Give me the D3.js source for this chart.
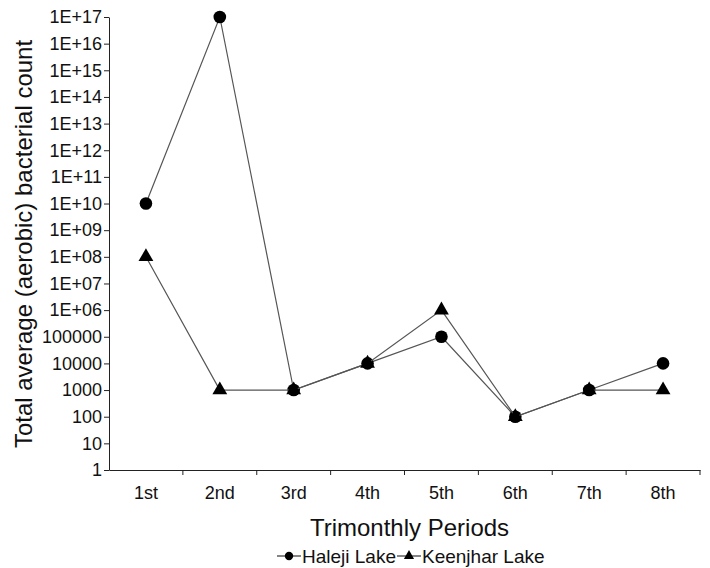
<!DOCTYPE html>
<html>
<head>
<meta charset="utf-8">
<script src="https://cdn.jsdelivr.net/npm/d3@7"></script>
<style>
  body { margin: 0; background: #fff; }
  text { font-family: "Liberation Sans", Arial, sans-serif; fill: #111; }
</style>
</head>
<body>
<svg width="710" height="568"></svg>
<script>
const periods = ['1st', '2nd', '3rd', '4th', '5th', '6th', '7th', '8th']
const haleji = [1e10, 1e17, 1e3, 1e4, 1e5, 1e2, 1e3, 1e4]
const keenjhar = [1e8, 1e3, 1e3, 1e4, 1e6, 1e2, 1e3, 1e3]
const yTicks = d3.range(0, 18).map(e => Math.pow(10, e))

const svg = d3.select('svg')
const margin = { top: 17, right: 10, bottom: 98, left: 109 }
const width = +svg.attr('width')
const height = +svg.attr('height')
const innerWidth = width - margin.left - margin.right
const innerHeight = height - margin.top - margin.bottom

const fmt = v => {
  const e = Math.round(Math.log10(v))
  if (e <= 5) return String(v)
  return '1E+' + (e < 10 ? '0' + e : e)
}

const xScale = d3.scaleBand().domain(periods).range([0, innerWidth])
const yScale = d3.scaleLog().domain([1, 1e17]).range([innerHeight, 0])

const g = svg.append('g')
  .attr('transform', `translate(${margin.left}, ${margin.top})`)

// y axis
const yAxisG = g.append('g')
  .call(d3.axisLeft(yScale).tickValues(yTicks).tickFormat(fmt).tickSize(5).tickSizeOuter(0))
yAxisG.selectAll('.tick text').attr('x', -7).style('font-size', '18px')
yAxisG.selectAll('line, path').attr('stroke', '#222')

// x axis with ticks at band boundaries
const xAxisG = g.append('g')
  .attr('transform', `translate(0, ${innerHeight})`)
  .call(d3.axisBottom(xScale).tickSize(0).tickSizeOuter(0))
xAxisG.selectAll('.tick text').attr('dy', null).attr('y', 29).style('font-size', '18px')
xAxisG.select('.domain').attr('stroke', '#222')
xAxisG.selectAll('.bnd')
  .data(periods)
  .enter()
  .append('line')
  .attr('class', 'bnd')
  .attr('x1', d => xScale(d) + xScale.bandwidth())
  .attr('x2', d => xScale(d) + xScale.bandwidth())
  .attr('y1', 0)
  .attr('y2', 5)
  .attr('stroke', '#222')

const cx = d => xScale(d) + xScale.bandwidth() / 2

const line = d3.line()
  .x(d => cx(d.p))
  .y(d => yScale(d.v))

const series = [
  { name: 'Haleji Lake', values: haleji, shape: d3.symbolCircle },
  { name: 'Keenjhar Lake', values: keenjhar, shape: d3.symbolTriangle }
]

series.forEach(s => {
  const pts = periods.map((p, i) => ({ p, v: s.values[i] }))
  g.append('path')
    .attr('d', line(pts))
    .attr('fill', 'none')
    .attr('stroke', '#555')
    .attr('stroke-width', 1.2)
  g.selectAll(null)
    .data(pts)
    .enter()
    .append('path')
    .attr('d', d3.symbol().type(s.shape).size(s.shape === d3.symbolCircle ? 125 : 95))
    .attr('transform', d => `translate(${cx(d.p)}, ${yScale(d.v)})`)
    .attr('fill', '#000')
})

// axis titles
svg.append('text')
  .attr('x', margin.left + innerWidth / 2 + 5)
  .attr('y', 536)
  .attr('text-anchor', 'middle')
  .style('font-size', '24px')
  .text('Trimonthly Periods')

svg.append('text')
  .attr('transform', `translate(32, 244) rotate(-90)`)
  .attr('text-anchor', 'middle')
  .style('font-size', '24px')
  .text('Total average (aerobic) bacterial count')

// legend
const legend = svg.append('g').attr('transform', 'translate(277, 556)')
let lx = 0
series.forEach(s => {
  const item = legend.append('g').attr('transform', `translate(${lx}, 0)`)
  item.append('line')
    .attr('x1', 0).attr('x2', 24).attr('y1', 0).attr('y2', 0)
    .attr('stroke', '#333').attr('stroke-width', 1.2)
  item.append('path')
    .attr('d', d3.symbol().type(s.shape).size(s.shape === d3.symbolCircle ? 55 : 45))
    .attr('transform', 'translate(12, 0)')
    .attr('fill', '#000')
  const t = item.append('text')
    .attr('x', 25)
    .attr('y', 7)
    .style('font-size', '19px')
    .text(s.name)
  lx += 25 + t.node().getComputedTextLength() + 1
})
</script>
</body>
</html>
